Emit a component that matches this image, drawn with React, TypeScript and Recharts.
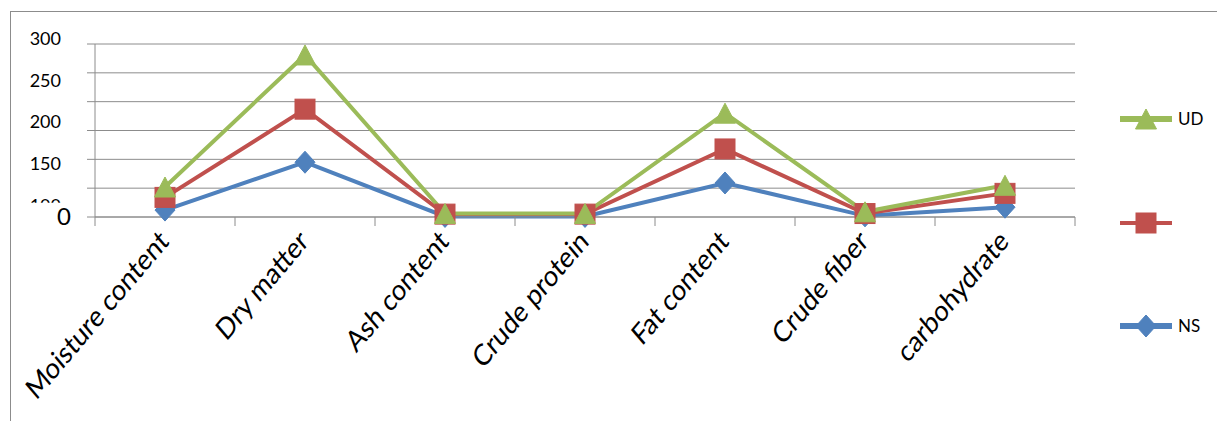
import React from 'react';
import { LineChart, Line, XAxis, YAxis, CartesianGrid, Legend } from 'recharts';

const categories = ['Moisture content', 'Dry matter', 'Ash content', 'Crude protein', 'Fat content', 'Crude fiber', 'carbohydrate'];
const nsValues = [12, 95, 1, 1, 59, 2, 17];
const redValues = [34, 187, 5, 5, 118, 6, 41];
const udValues = [52, 281, 6, 6, 180, 9, 55];
const yTicks = [0, 50, 100, 150, 200, 250, 300];
const seriesLabels: Record<string, string> = { ns: 'NS', red: '', ud: 'UD' };
const legendOrder = ['ud', 'red', 'ns'];

const BLUE = '#4F81BD';
const RED = '#C0504D';
const GREEN = '#9BBB59';
const GRID = '#8c8c8c';
const FONT = 'Lato, "Open Sans", sans-serif';

const data = categories.map((c, i) => ({ pos: i + 0.5, name: c, ns: nsValues[i], red: redValues[i], ud: udValues[i] }));

const xTicks: number[] = [];
for (let i = 0; i <= categories.length; i++) {
  xTicks.push(i);
  if (i < categories.length) xTicks.push(i + 0.5);
}

const Diamond = ({ cx, cy, color }: any) => (
  <polygon points={`${cx},${cy - 11} ${cx + 10},${cy} ${cx},${cy + 11} ${cx - 10},${cy}`} fill={color} stroke={color} strokeWidth={1} />
);
const Square = ({ cx, cy, color }: any) => (
  <rect x={cx - 10} y={cy - 10} width={20} height={20} fill={color} stroke={color} strokeWidth={1} />
);
const Triangle = ({ cx, cy, color }: any) => (
  <polygon points={`${cx},${cy - 10} ${cx + 10.5},${cy + 10} ${cx - 10.5},${cy + 10}`} fill={color} stroke={color} strokeWidth={1} />
);

const markerFor = (key: string, cx: number, cy: number) => {
  if (key === 'ns') return <Diamond cx={cx} cy={cy} color={BLUE} />;
  if (key === 'red') return <Square cx={cx} cy={cy} color={RED} />;
  return <Triangle cx={cx} cy={cy} color={GREEN} />;
};

const makeDot = (key: string) => (props: any) => {
  const { cx, cy, index } = props;
  if (cx == null || cy == null) return <g key={`${key}-${index}`} />;
  return <g key={`${key}-${index}`}>{markerFor(key, cx, cy)}</g>;
};

const XTick = (props: any) => {
  const { x, y, payload } = props;
  const v = payload.value as number;
  if (Number.isInteger(v)) {
    return <line x1={x} y1={y} x2={x} y2={y + 9} stroke={GRID} strokeWidth={1} />;
  }
  const label = categories[Math.floor(v)];
  return (
    <text
      transform={`translate(${x + 5},${y + 26}) scale(1,1.18) rotate(-45)`}
      textAnchor="end"
      fontSize={25}
      fontFamily={FONT}
      fill="#000"
    >
      {label}
    </text>
  );
};

const YTick = (props: any) => {
  const { x, y, payload } = props;
  const v = payload.value as number;
  if (v === 50) return <g />;
  if (v === 0) {
    return (
      <text x={x + 10} y={y} dy={8} textAnchor="end" fontSize={24} fontFamily={FONT} fill="#000">
        0
      </text>
    );
  }
  const labelY = 38.3 + (300 - v) * 0.836;
  if (v === 100) {
    return (
      <g>
        <defs>
          <clipPath id="clip-y100">
            <rect x={0} y={0} width={90} height={202.7} />
          </clipPath>
        </defs>
        <text x={x} y={labelY} dy={6.5} textAnchor="end" fontSize={18} fontFamily={FONT} fill="#000" clipPath="url(#clip-y100)">
          {v}
        </text>
      </g>
    );
  }
  return (
    <text x={x} y={labelY} dy={6.5} textAnchor="end" fontSize={18} fontFamily={FONT} fill="#000">
      {v}
    </text>
  );
};

const renderLegend = (props: any) => {
  const payload = props.payload || [];
  const items = legendOrder
    .map((k) => payload.find((p: any) => p.dataKey === k))
    .filter(Boolean);
  return (
    <div style={{ fontFamily: FONT }}>
      {items.map((it: any) => {
        const key = it.dataKey as string;
        const color = key === 'ns' ? BLUE : key === 'red' ? RED : GREEN;
        return (
          <div key={key} style={{ display: 'flex', alignItems: 'center', height: 22, marginBottom: 81.5 }}>
            <svg width={52} height={22} style={{ display: 'block' }}>
              <line x1={0} y1={11} x2={52} y2={11} stroke={color} strokeWidth={key === 'red' ? 4 : 6} />
              {markerFor(key, 26, 11)}
            </svg>
            <span style={{ marginLeft: 6, fontSize: 17, color: '#000', lineHeight: '22px' }}>{seriesLabels[key]}</span>
          </div>
        );
      })}
    </div>
  );
};

export default function App() {
  return (
    <div style={{ position: 'absolute', left: 0, top: 0, width: 1217, height: 421, background: '#fff' }}>
      <div
        style={{
          position: 'absolute',
          left: 10,
          top: 11,
          width: 1207,
          height: 410,
          boxSizing: 'border-box',
          borderLeft: `1px solid ${GRID}`,
          borderTop: `1px solid ${GRID}`,
        }}
      />
      <div style={{ position: 'absolute', left: 0, top: 0 }}>
        <LineChart width={1217} height={421} data={data} margin={{ top: 44, right: 142, bottom: 0, left: 10 }}>
          <CartesianGrid horizontal vertical={false} stroke={GRID} strokeWidth={1} />
          <XAxis
            dataKey="pos"
            type="number"
            domain={[0, categories.length]}
            ticks={xTicks}
            interval={0}
            tickLine={false}
            tickSize={0}
            tickMargin={0}
            axisLine={{ stroke: GRID }}
            height={204}
            tick={<XTick />}
            allowDecimals
          />
          <YAxis
            domain={[0, 300]}
            ticks={yTicks}
            interval={0}
            width={85}
            tickSize={8}
            tickMargin={26}
            tickLine={{ stroke: GRID }}
            axisLine={{ stroke: GRID }}
            tick={<YTick />}
          />
          <Legend
            layout="vertical"
            align="center"
            verticalAlign="middle"
            wrapperStyle={{ left: 1120, top: 108, width: 97 }}
            content={renderLegend}
          />
          <Line dataKey="ns" name="NS" stroke={BLUE} strokeWidth={4} dot={makeDot('ns')} activeDot={false} isAnimationActive={false} />
          <Line dataKey="red" name=" " stroke={RED} strokeWidth={4} dot={makeDot('red')} activeDot={false} isAnimationActive={false} />
          <Line dataKey="ud" name="UD" stroke={GREEN} strokeWidth={4} dot={makeDot('ud')} activeDot={false} isAnimationActive={false} />
        </LineChart>
      </div>
    </div>
  );
}
